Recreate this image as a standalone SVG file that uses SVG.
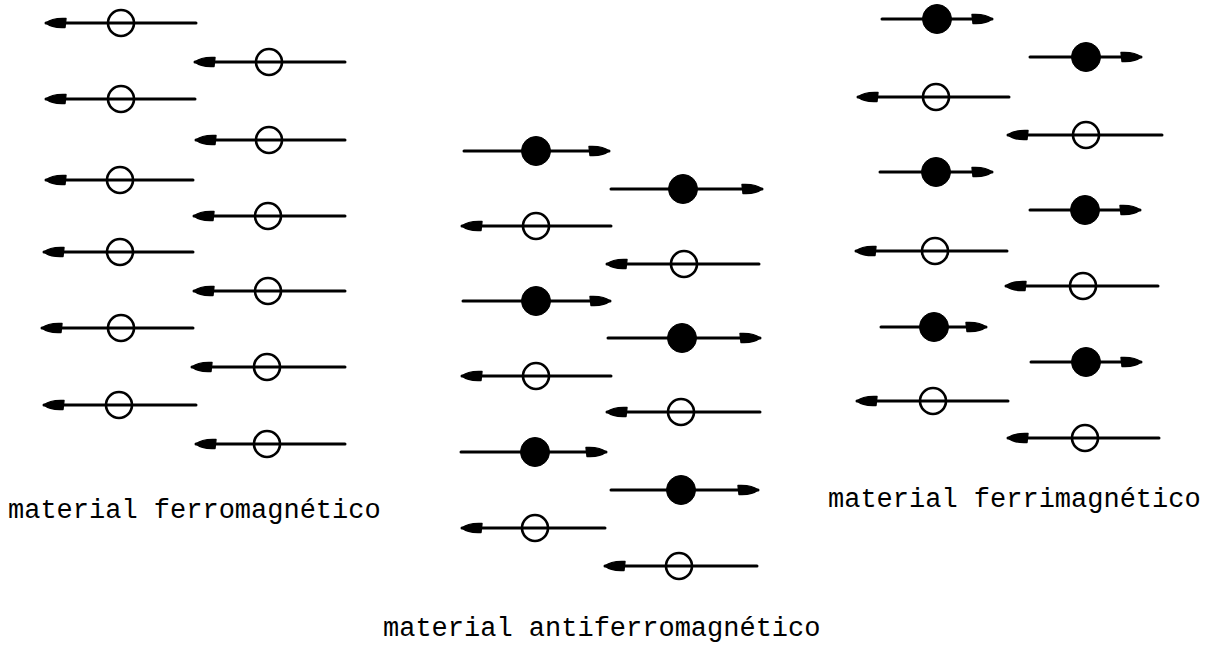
<svg xmlns="http://www.w3.org/2000/svg" xmlns:xlink="http://www.w3.org/1999/xlink" width="1208" height="648" viewBox="0 0 1208 648">
<style>
.ax{stroke:#000;stroke-width:3;stroke-linecap:round;fill:none}
.o{fill:none;stroke:#000;stroke-width:2.6}
.f{fill:#000;stroke:#000;stroke-width:1}
.h{fill:#000;stroke:#000;stroke-width:1.4;stroke-linejoin:round}
.lbl{font-family:"Liberation Mono","DejaVu Sans Mono",monospace;font-size:27px;fill:#000}
</style>
<defs>
<path id="hl" class="h" d="M0,0 C4,-3.5 10,-5 20,-4.5 L19,4.5 C10,5 4,3.5 0,0 Z"/>
<path id="hr" class="h" d="M0,0 C-4,-3.5 -10,-5 -20,-4.5 L-19,4.5 C-10,5 -4,3.5 0,0 Z"/>
</defs>
<rect width="1208" height="648" fill="#fff"/>

<!-- ferromagnetic -->
<g id="ferro">
<g id="fe-l1"><line class="ax" x1="46" y1="23" x2="196" y2="23"/><use xlink:href="#hl" x="46" y="23"/><circle class="o" cx="121" cy="23" r="13"/></g>
<g id="fe-l2"><line class="ax" x1="46" y1="99" x2="195" y2="99"/><use xlink:href="#hl" x="46" y="99"/><circle class="o" cx="121" cy="99" r="13"/></g>
<g id="fe-l3"><line class="ax" x1="46" y1="180" x2="193" y2="180"/><use xlink:href="#hl" x="46" y="180"/><circle class="o" cx="120" cy="180" r="13"/></g>
<g id="fe-l4"><line class="ax" x1="44" y1="252" x2="193" y2="252"/><use xlink:href="#hl" x="44" y="252"/><circle class="o" cx="120" cy="252" r="13"/></g>
<g id="fe-l5"><line class="ax" x1="42" y1="328" x2="193" y2="328"/><use xlink:href="#hl" x="42" y="328"/><circle class="o" cx="121" cy="328" r="13"/></g>
<g id="fe-l6"><line class="ax" x1="44" y1="405" x2="196" y2="405"/><use xlink:href="#hl" x="44" y="405"/><circle class="o" cx="119" cy="405" r="13"/></g>
<g id="fe-r1"><line class="ax" x1="195" y1="62" x2="345" y2="62"/><use xlink:href="#hl" x="195" y="62"/><circle class="o" cx="269" cy="62" r="13"/></g>
<g id="fe-r2"><line class="ax" x1="196" y1="140" x2="345" y2="140"/><use xlink:href="#hl" x="196" y="140"/><circle class="o" cx="269" cy="140" r="13"/></g>
<g id="fe-r3"><line class="ax" x1="194" y1="216" x2="345" y2="216"/><use xlink:href="#hl" x="194" y="216"/><circle class="o" cx="268" cy="216" r="13"/></g>
<g id="fe-r4"><line class="ax" x1="194" y1="291" x2="345" y2="291"/><use xlink:href="#hl" x="194" y="291"/><circle class="o" cx="268" cy="291" r="13"/></g>
<g id="fe-r5"><line class="ax" x1="192" y1="367" x2="345" y2="367"/><use xlink:href="#hl" x="192" y="367"/><circle class="o" cx="267" cy="367" r="13"/></g>
<g id="fe-r6"><line class="ax" x1="196" y1="444" x2="345" y2="444"/><use xlink:href="#hl" x="196" y="444"/><circle class="o" cx="267" cy="444" r="13"/></g>
</g>

<!-- antiferromagnetic -->
<g id="antiferro">
<g id="af-l1"><line class="ax" x1="464" y1="151" x2="609" y2="151"/><use xlink:href="#hr" x="609" y="151"/><circle class="f" cx="536" cy="151" r="14.5"/></g>
<g id="af-l2"><line class="ax" x1="462" y1="226" x2="611" y2="226"/><use xlink:href="#hl" x="462" y="226"/><circle class="o" cx="536" cy="226" r="13"/></g>
<g id="af-l3"><line class="ax" x1="463" y1="301" x2="610" y2="301"/><use xlink:href="#hr" x="610" y="301"/><circle class="f" cx="536" cy="301" r="14.5"/></g>
<g id="af-l4"><line class="ax" x1="462" y1="376" x2="611" y2="376"/><use xlink:href="#hl" x="462" y="376"/><circle class="o" cx="536" cy="376" r="13"/></g>
<g id="af-l5"><line class="ax" x1="461" y1="452" x2="606" y2="452"/><use xlink:href="#hr" x="606" y="452"/><circle class="f" cx="535" cy="452" r="14.5"/></g>
<g id="af-l6"><line class="ax" x1="462" y1="528" x2="605" y2="528"/><use xlink:href="#hl" x="462" y="528"/><circle class="o" cx="535" cy="528" r="13"/></g>
<g id="af-r1"><line class="ax" x1="611" y1="189" x2="762" y2="189"/><use xlink:href="#hr" x="762" y="189"/><circle class="f" cx="683" cy="189" r="14.5"/></g>
<g id="af-r2"><line class="ax" x1="607" y1="264" x2="759" y2="264"/><use xlink:href="#hl" x="607" y="264"/><circle class="o" cx="684" cy="264" r="13"/></g>
<g id="af-r3"><line class="ax" x1="608" y1="338" x2="760" y2="338"/><use xlink:href="#hr" x="760" y="338"/><circle class="f" cx="682" cy="338" r="14.5"/></g>
<g id="af-r4"><line class="ax" x1="607" y1="412" x2="760" y2="412"/><use xlink:href="#hl" x="607" y="412"/><circle class="o" cx="681" cy="412" r="13"/></g>
<g id="af-r5"><line class="ax" x1="611" y1="490" x2="758" y2="490"/><use xlink:href="#hr" x="758" y="490"/><circle class="f" cx="681" cy="490" r="14.5"/></g>
<g id="af-r6"><line class="ax" x1="605" y1="566" x2="757" y2="566"/><use xlink:href="#hl" x="605" y="566"/><circle class="o" cx="679" cy="566" r="13"/></g>
</g>

<!-- ferrimagnetic -->
<g id="ferri">
<g id="fi-l1"><line class="ax" x1="882" y1="19" x2="992" y2="19"/><use xlink:href="#hr" x="992" y="19"/><circle class="f" cx="937" cy="19" r="14.5"/></g>
<g id="fi-l2"><line class="ax" x1="858" y1="97" x2="1009" y2="97"/><use xlink:href="#hl" x="858" y="97"/><circle class="o" cx="936" cy="97" r="13"/></g>
<g id="fi-l3"><line class="ax" x1="880" y1="172" x2="992" y2="172"/><use xlink:href="#hr" x="992" y="172"/><circle class="f" cx="936" cy="172" r="14.5"/></g>
<g id="fi-l4"><line class="ax" x1="856" y1="251" x2="1007" y2="251"/><use xlink:href="#hl" x="856" y="251"/><circle class="o" cx="935" cy="251" r="13"/></g>
<g id="fi-l5"><line class="ax" x1="881" y1="327" x2="986" y2="327"/><use xlink:href="#hr" x="986" y="327"/><circle class="f" cx="934" cy="327" r="14.5"/></g>
<g id="fi-l6"><line class="ax" x1="857" y1="401" x2="1008" y2="401"/><use xlink:href="#hl" x="857" y="401"/><circle class="o" cx="933" cy="401" r="13"/></g>
<g id="fi-r1"><line class="ax" x1="1030" y1="57" x2="1141" y2="57"/><use xlink:href="#hr" x="1141" y="57"/><circle class="f" cx="1086" cy="57" r="14.5"/></g>
<g id="fi-r2"><line class="ax" x1="1008" y1="135" x2="1162" y2="135"/><use xlink:href="#hl" x="1008" y="135"/><circle class="o" cx="1086" cy="135" r="13"/></g>
<g id="fi-r3"><line class="ax" x1="1030" y1="210" x2="1140" y2="210"/><use xlink:href="#hr" x="1140" y="210"/><circle class="f" cx="1085" cy="210" r="14.5"/></g>
<g id="fi-r4"><line class="ax" x1="1006" y1="286" x2="1158" y2="286"/><use xlink:href="#hl" x="1006" y="286"/><circle class="o" cx="1083" cy="286" r="13"/></g>
<g id="fi-r5"><line class="ax" x1="1031" y1="362" x2="1141" y2="362"/><use xlink:href="#hr" x="1141" y="362"/><circle class="f" cx="1086" cy="362" r="14.5"/></g>
<g id="fi-r6"><line class="ax" x1="1008" y1="438" x2="1159" y2="438"/><use xlink:href="#hl" x="1008" y="438"/><circle class="o" cx="1085" cy="438" r="13"/></g>
</g>

<g id="labels">
<text class="lbl" x="8" y="518">material ferromagnético</text>
<text class="lbl" x="828" y="507">material ferrimagnético</text>
<text class="lbl" x="383" y="636">material antiferromagnético</text>
</g>
</svg>
